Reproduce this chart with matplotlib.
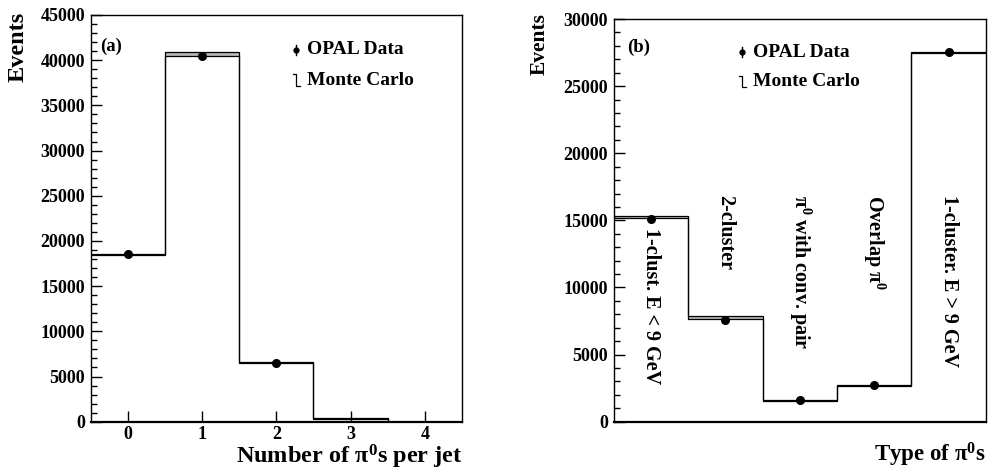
import numpy as np
import matplotlib.pyplot as plt
from matplotlib.ticker import MultipleLocator

plt.rcParams['font.family'] = ['Liberation Serif', 'DejaVu Serif']
plt.rcParams['font.weight'] = 'bold'
plt.rcParams['mathtext.fontset'] = 'custom'
plt.rcParams['mathtext.rm'] = 'Liberation Serif:bold'
plt.rcParams['mathtext.bf'] = 'Liberation Serif:bold'
plt.rcParams['mathtext.it'] = 'Liberation Serif:bold'
plt.rcParams['mathtext.default'] = 'bf'

# panel (a): number of pi0 per jet
npi_bins = np.arange(5)
npi_mc_lo = [18450, 40450, 6500, 330, 0]
npi_mc_hi = [18550, 40900, 6600, 390, 0]
npi_data_x = [0, 1, 2]
npi_data = [18550, 40500, 6450]

# panel (b): type of pi0
type_bins = np.arange(5)
type_mc_lo = [15150, 7620, 1520, 2650, 27450]
type_mc_hi = [15340, 7870, 1600, 2720, 27550]
type_data = [15120, 7580, 1620, 2700, 27520]
type_labels = ['1-clust. E < 9 GeV', '2-cluster', r'$\pi^{0}$ with conv. pair',
               r'Overlap $\pi^{0}$', '1-cluster. E > 9 GeV']
type_label_top = [14430, 16900, 16900, 16900, 16900]

fig = plt.figure(figsize=(9.88, 4.73), dpi=100)
ax1 = fig.add_axes([0.0918, 0.1084, 0.3758, 0.8599])
ax2 = fig.add_axes([0.6212, 0.1084, 0.3765, 0.8514])


def draw_band(ax, bins, lo, hi):
    edges = np.append(bins - 0.5, bins[-1] + 0.5)
    lo_s = np.append(lo, lo[-1])
    hi_s = np.append(hi, hi[-1])
    ax.fill_between(edges, lo_s, hi_s, step='post', color='0.72', lw=0)
    ax.step(edges, lo_s, where='post', color='k', lw=0.9)
    ax.step(edges, hi_s, where='post', color='k', lw=0.9)


def style(ax, ymax, major):
    ax.set_ylim(0, ymax)
    ax.set_xlim(-0.5, 4.5)
    ax.yaxis.set_major_locator(MultipleLocator(major))
    ax.yaxis.set_minor_locator(MultipleLocator(1000))
    ax.tick_params(axis='y', which='major', direction='in', length=8, width=1, labelsize=13, pad=4)
    ax.tick_params(axis='y', which='minor', direction='in', length=4, width=1)
    ax.tick_params(right=False, top=False)
    for s in ax.spines.values():
        s.set_linewidth(1.0)
    ax.spines['bottom'].set_linewidth(1.6)


def legend(ax, x, y1, y2, dx):
    ax.plot([x, x], [y1 - 0.013, y1 + 0.013], color='k', lw=1, transform=ax.transAxes)
    ax.plot([x], [y1], 'o', color='k', ms=3.5, transform=ax.transAxes)
    ax.text(x + dx, y1, 'OPAL Data', fontsize=14, va='center', ha='left', transform=ax.transAxes)
    ax.plot([x - 0.008, x, x, x + 0.011], [y2 + 0.014, y2 + 0.014, y2 - 0.014, y2 - 0.014],
            color='k', lw=0.9, transform=ax.transAxes)
    ax.text(x + dx, y2, 'Monte Carlo', fontsize=14, va='center', ha='left', transform=ax.transAxes)


# panel (a)
draw_band(ax1, npi_bins, npi_mc_lo, npi_mc_hi)
ax1.plot(npi_data_x, npi_data, 'o', color='k', ms=5.5)
style(ax1, 45000, 5000)
ax1.set_xticks(npi_bins)
ax1.tick_params(axis='x', direction='in', length=8, width=1, labelsize=13, pad=3)
ax1.text(-0.196, 1.007, 'Events', rotation=90, fontsize=17.5, ha='center', va='top',
         transform=ax1.transAxes)
ax1.text(1.0, -0.086, r'Number of $\pi^{0}$s per jet', fontsize=17.5, ha='right', va='center',
         transform=ax1.transAxes)
ax1.text(0.025, 0.924, '(a)', fontsize=13.5, ha='left', va='center', transform=ax1.transAxes)
legend(ax1, 0.553, 0.914, 0.840, 0.03)

# panel (b)
draw_band(ax2, type_bins, type_mc_lo, type_mc_hi)
ax2.plot(type_bins, type_data, 'o', color='k', ms=5.5)
style(ax2, 30000, 5000)
ax2.set_xticks([])
ax2.text(-0.198, 1.015, 'Events', rotation=90, fontsize=15.5, ha='center', va='top',
         transform=ax2.transAxes)
ax2.text(1.0, -0.083, r'Type of $\pi^{0}$s', fontsize=16.5, ha='right', va='center',
         transform=ax2.transAxes)
ax2.text(0.036, 0.93, '(b)', fontsize=13.5, ha='left', va='center', transform=ax2.transAxes)
legend(ax2, 0.345, 0.918, 0.844, 0.03)
for xb, lab, yt in zip(type_bins, type_labels, type_label_top):
    ax2.text(xb, yt, lab, rotation=270, fontsize=14.5, ha='center', va='top')

fig.savefig('out.png', dpi=100)
